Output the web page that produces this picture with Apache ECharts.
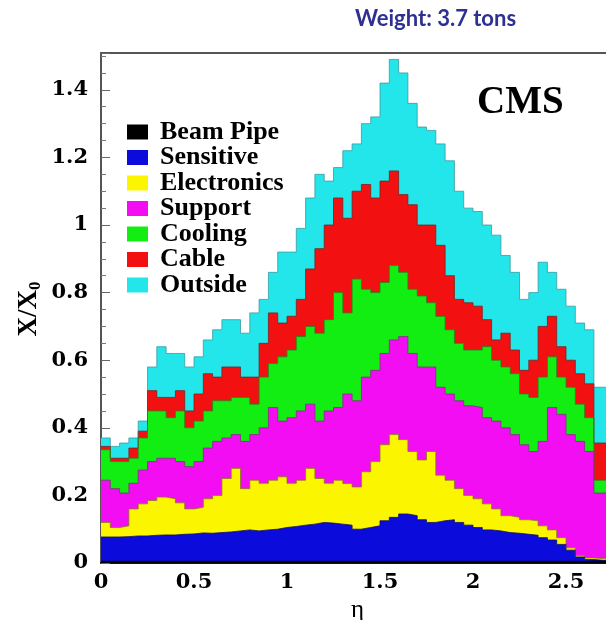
<!DOCTYPE html>
<html style="height: 100%">
<head>
    <meta charset="utf-8">
</head>
<body style="height: 100%; margin: 0; background: #fff">
<div id="container" style="width: 606px; height: 620px"></div>
<script type="text/javascript" src="https://cdn.jsdelivr.net/npm/echarts@6/dist/echarts.min.js"></script>
<script type="text/javascript">
    // bin left edges in eta (last entry closes the final bin)
    var etaEdges = [0, 0.05, 0.1, 0.15, 0.2, 0.25, 0.3, 0.35, 0.4, 0.45,
        0.5, 0.55, 0.6, 0.65, 0.7, 0.75, 0.8, 0.85, 0.9, 0.95,
        1.0, 1.05, 1.1, 1.15, 1.2, 1.25, 1.3, 1.35, 1.4, 1.45,
        1.5, 1.55, 1.6, 1.65, 1.7, 1.75, 1.8, 1.85, 1.9, 1.95,
        2.0, 2.05, 2.1, 2.15, 2.2, 2.25, 2.3, 2.35, 2.4, 2.45,
        2.5, 2.55, 2.6, 2.65, 2.7, 2.75];

    var materials = ['Beam Pipe', 'Sensitive', 'Electronics', 'Support', 'Cooling', 'Cable', 'Outside'];

    // X/X0 contribution of each material per eta bin
    var beamPipe = [.005, .005, .005, .005, .005, .005, .005, .005, .005, .005,
        .005, .005, .005, .005, .005, .005, .005, .005, .005, .005,
        .005, .005, .005, .005, .005, .005, .005, .005, .005, .005,
        .005, .005, .005, .005, .005, .005, .005, .005, .005, .005,
        .005, .005, .005, .005, .005, .005, .005, .005, .005, .005,
        .005, .005, .006, .006, .006];
    var sensitive = [.072, .072, .073, .075, .075, .077, .078, .078, .080, .081,
        .084, .083, .085, .087, .090, .093, .090, .093, .095, .100,
        .103, .107, .110, .115, .113, .110, .107, .095, .100, .105,
        .120, .130, .140, .135, .123, .115, .120, .123, .115, .107,
        .100, .093, .090, .085, .083, .080, .077, .070, .063, .050,
        .033, .013, .004, .002, .002];
    var electronics = [.043, .028, .032, .080, .095, .103, .112, .107, .093, .074,
        .076, .102, .110, .158, .185, .122, .150, .138, .145, .150,
        .128, .133, .165, .130, .118, .130, .123, .125, .165, .190,
        .225, .245, .220, .190, .177, .210, .135, .117, .100, .088,
        .085, .077, .065, .050, .047, .043, .043, .035, .030, .020,
        .007, .004, .005, .005, .005];
    var support = [.125, .115, .097, .076, .100, .115, .115, .120, .122, .125,
        .135, .150, .160, .120, .100, .140, .135, .164, .215, .165,
        .194, .205, .190, .170, .214, .215, .265, .255, .280, .270,
        .270, .280, .305, .290, .275, .250, .260, .255, .260, .265,
        .270, .255, .260, .260, .245, .222, .205, .250, .362, .365,
        .335, .338, .315, .194, .194];
    var cooling = [.090, .080, .093, .074, .095, .150, .140, .120, .150, .115,
        .120, .110, .120, .110, .110, .130, .090, .150, .130, .190,
        .200, .220, .230, .260, .270, .340, .240, .360, .260, .230,
        .210, .220, .190, .190, .210, .190, .210, .190, .170, .165,
        .170, .210, .180, .180, .180, .150, .160, .190, .150, .110,
        .140, .110, .100, .038, .038];
    var cable = [.010, .010, .010, .030, .020, .060, .040, .060, .060, .050,
        .080, .110, .070, .100, .090, .060, .080, .100, .150, .100,
        .100, .110, .170, .250, .280, .280, .280, .260, .310, .280,
        .300, .280, .230, .250, .210, .230, .210, .160, .130, .140,
        .130, .080, .060, .100, .070, .070, .110, .150, .120, .090,
        .080, .090, .100, .110, .110];
    var outside = [.025, .035, .045, .030, .030, .070, .150, .130, .110, .130,
        .110, .100, .140, .140, .140, .130, .190, .130, .120, .210,
        .190, .210, .210, .220, .130, .090, .200, .140, .180, .240,
        .290, .330, .360, .300, .290, .280, .300, .340, .320, .280,
        .280, .280, .310, .230, .230, .210, .200, .190, .130, .170,
        .160, .150, .160, .165, .165];

    var xTicks = [0, 0.5, 1, 1.5, 2, 2.5];
    var yTicks = [0, 0.2, 0.4, 0.6, 0.8, 1, 1.2, 1.4];

    var layers = [beamPipe, sensitive, electronics, support, cooling, cable, outside];
    var fills = ['#000000', '#0b0bdb', '#fbf500', '#f20df2', '#12ee12', '#f21010', '#22e6ea'];
    var edges = ['#000000', '#10106a', '#8a7a20', '#803080', '#208a20', '#802020', '#3a9aa0'];

    var dom = document.getElementById("container");
    var myChart = echarts.init(dom, null, {renderer: 'canvas'});

    var serif = "'Liberation Serif', serif";
    var tickFont = "'DejaVu Serif', serif";

    // running total of the layers, bin by bin
    var nBins = beamPipe.length;
    var running = [];
    for (var j = 0; j < nBins; j++) running.push(0);
    var stacked = [];
    for (var i = 0; i < layers.length; i++) {
        var pts = [];
        for (var j = 0; j < nBins; j++) {
            running[j] += layers[i][j];
            pts.push([etaEdges[j], +running[j].toFixed(4)]);
        }
        pts.push([etaEdges[nBins], pts[nBins - 1][1]]);
        stacked.push(pts);
    }

    // paint the outermost layer first so inner layers sit on top
    var series = [];
    for (var i = layers.length - 1; i >= 0; i--) {
        series.push({
            name: materials[i],
            type: 'line',
            step: 'end',
            symbol: 'none',
            data: stacked[i],
            itemStyle: {color: fills[i]},
            lineStyle: {color: edges[i], width: 0.8},
            areaStyle: {color: fills[i], opacity: 1, origin: 'start'}
        });
    }

    var option = {
        animation: false,
        backgroundColor: '#ffffff',
        grid: {left: 101, right: 0, top: 53, bottom: 57, containLabel: false, outerBoundsMode: 'none'},
        legend: {
            orient: 'vertical',
            left: 122,
            top: 114,
            icon: 'rect',
            itemWidth: 21,
            itemHeight: 15,
            itemGap: -0.5,
            data: materials,
            textStyle: {
                fontFamily: serif,
                fontWeight: 'bold',
                fontSize: 26,
                color: '#000',
                padding: [0, 0, 0, 7]
            }
        },
        xAxis: [{
            type: 'value',
            min: 0,
            max: 2.715,
            interval: 0.5,
            name: 'η',
            nameLocation: 'middle',
            nameGap: 35,
            nameTextStyle: {fontFamily: serif, fontSize: 25, color: '#000', padding: [0, 0, 0, 8]},
            axisLine: {show: true, lineStyle: {color: '#111', width: 2}},
            axisTick: {inside: true, length: 9, lineStyle: {color: '#333'}},
            minorTick: {show: true, splitNumber: 5, length: 5, lineStyle: {color: '#333'}},
            splitLine: {show: false},
            axisLabel: {
                fontFamily: tickFont, fontWeight: 'bold', fontSize: 21, color: '#000', margin: 9,
                showMaxLabel: false,
                formatter: function (v) {
                    return xTicks.indexOf(v) >= 0 ? String(v) : '';
                }
            }
        }, {
            type: 'value',
            position: 'top',
            min: 0,
            max: 2.715,
            axisLine: {show: true, onZero: false, lineStyle: {color: '#555', width: 2}},
            axisTick: {show: false},
            axisLabel: {show: false},
            splitLine: {show: false}
        }],
        yAxis: {
            type: 'value',
            min: 0,
            max: 1.509,
            interval: 0.2,
            axisLine: {show: true, lineStyle: {color: '#555', width: 2}},
            axisTick: {show: true, inside: true, length: 9, lineStyle: {color: '#666'}},
            minorTick: {show: true, splitNumber: 4, length: 5, lineStyle: {color: '#777'}},
            splitLine: {show: false},
            axisLabel: {
                fontFamily: tickFont, fontWeight: 'bold', fontSize: 21, color: '#000', margin: 13,
                showMaxLabel: false,
                formatter: function (v) {
                    var r = Math.round(v * 10) / 10;
                    return yTicks.indexOf(r) >= 0 ? String(r) : '';
                }
            }
        },
        graphic: [{
            type: 'text',
            left: 355,
            top: 8,
            style: {
                text: 'Weight: 3.7 tons',
                font: "bold 22px Lato, 'Open Sans', sans-serif",
                fill: '#2e3192'
            }
        }, {
            type: 'text',
            left: 477,
            top: 83,
            z: 100,
            style: {
                text: 'CMS',
                font: "bold 39px 'Liberation Serif', serif",
                fill: '#000'
            }
        }, {
            type: 'text',
            x: 29,
            y: 309,
            rotation: Math.PI / 2,
            z: 100,
            style: {
                text: '{m|X/X}{s|0}',
                align: 'center',
                verticalAlign: 'middle',
                rich: {
                    m: {font: "bold 27px 'Liberation Serif', serif", fill: '#000', lineHeight: 30, verticalAlign: 'middle'},
                    s: {font: "bold 17px 'Liberation Serif', serif", fill: '#000', lineHeight: 30, verticalAlign: 'bottom'}
                },
                fill: '#000'
            }
        }],
        series: series
    };

    if (option && typeof option === "object") {
        myChart.setOption(option, true);
    }
</script>
</body>
</html>
